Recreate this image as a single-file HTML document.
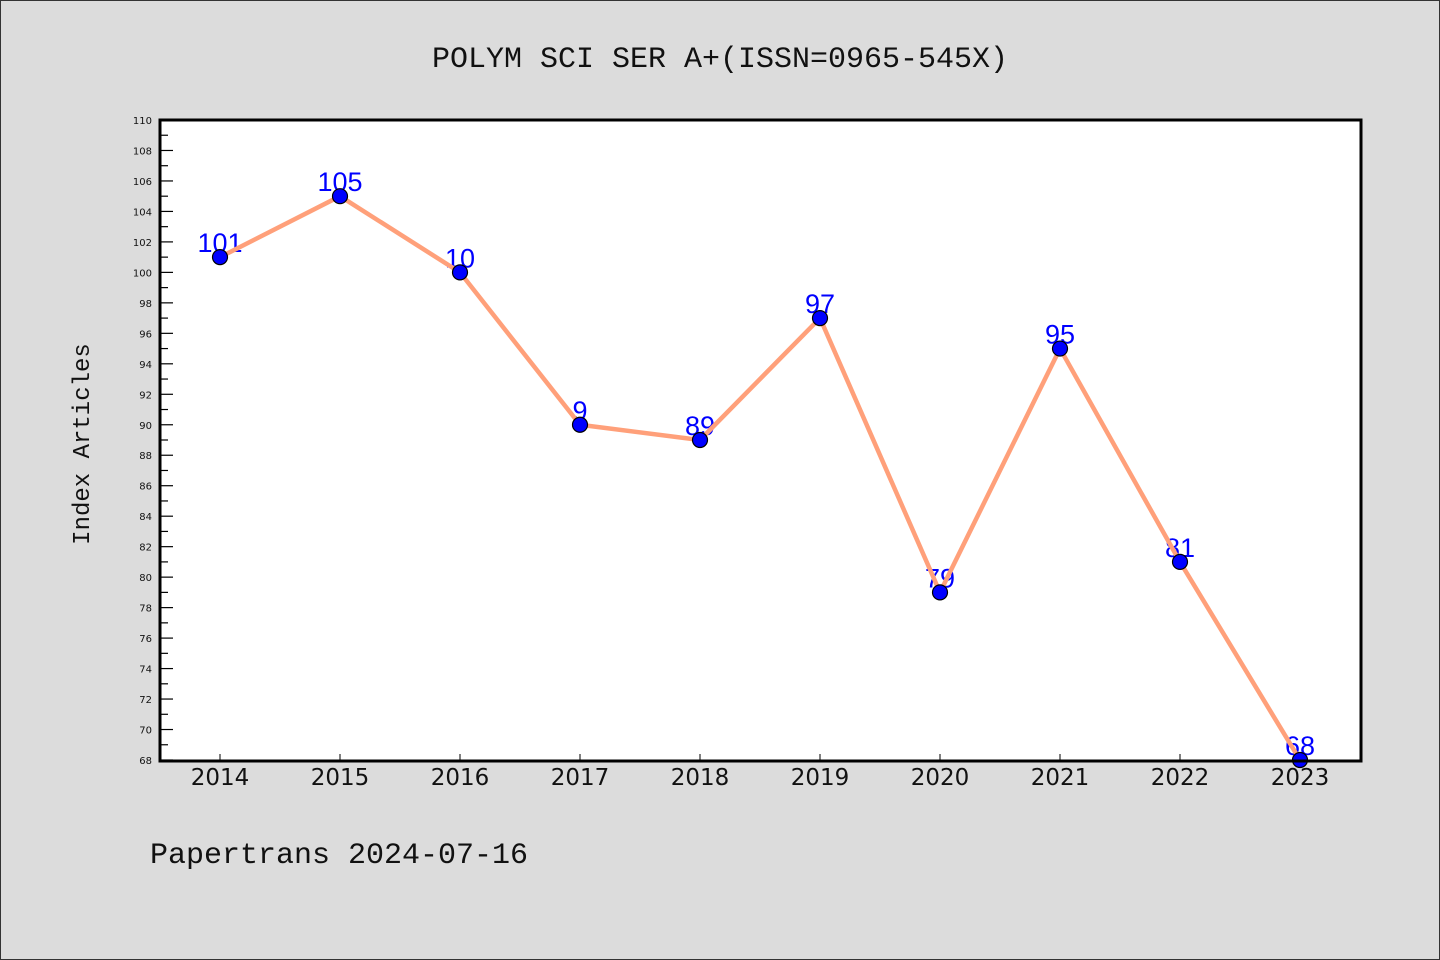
<!DOCTYPE html>
<html><head><meta charset="utf-8"><style>
html,body{margin:0;padding:0;background:#dcdcdc;}
svg{display:block;}
</style></head><body>
<svg id="chart" width="1440" height="960" xmlns="http://www.w3.org/2000/svg">
<rect x="0.5" y="0.5" width="1439" height="959" fill="#dcdcdc" stroke="#333"/>
<text x="720" y="67" text-anchor="middle" font-family="Liberation Mono, monospace" font-size="30" fill="#111">POLYM SCI SER A+(ISSN=0965-545X)</text>
<rect x="160" y="120" width="1201" height="641" fill="#fff"/>
<g id="yaxis"></g>
<g id="xaxis"></g>
<g id="labels"></g>
<g id="series"></g>
<rect x="160" y="120" width="1201" height="641" fill="none" stroke="#000" stroke-width="3"/>
<text transform="translate(89,444) rotate(-90)" text-anchor="middle" font-family="Liberation Mono, monospace" font-size="24" fill="#111">Index Articles</text>
<text x="150" y="863" font-family="Liberation Mono, monospace" font-size="30" fill="#111">Papertrans 2024-07-16</text>
</svg>
<script>
const years = ["2014","2015","2016","2017","2018","2019","2020","2021","2022","2023"];
const values = [101,105,100,90,89,97,79,95,81,68];
const printedLabels = ["101","105","10","9","89","97","79","95","81","68"];
const yMin = 68, yMax = 110;
const NS = "http://www.w3.org/2000/svg";
const y = v => 760 - (v - yMin) * (640 / (yMax - yMin));
const x = i => 220 + i * 120;
function mk(tag, attrs, parent){const e=document.createElementNS(NS,tag);for(const k in attrs)e.setAttribute(k,attrs[k]);parent.appendChild(e);return e;}
const ya=document.getElementById('yaxis');
for(let v=yMin; v<=yMax; v++){
  const major=(v%2===0);
  const t=mk('line',{x1:160,x2:major?173:168,y1:y(v),y2:y(v),stroke:'#000','stroke-width':1.2},ya);
  
  
  if(major){
    const l=mk('text',{x:152,y:y(v)+4,'text-anchor':'end','font-family':'DejaVu Sans, sans-serif','font-size':10,fill:'#111'},ya);
    l.textContent=v;
    
    
  }
}
const xa=document.getElementById('xaxis');
years.forEach((yr,i)=>{
  const t=mk('line',{x1:x(i),x2:x(i),y1:760,y2:754,stroke:'#000','stroke-width':1},xa);
  
  
  const l=mk('text',{x:x(i),y:785,'text-anchor':'middle','font-family':'DejaVu Sans, sans-serif','font-size':23,fill:'#111'},xa);
  l.textContent=yr;
  
  
});
const lg=document.getElementById('labels');
values.forEach((v,i)=>{
  const l=mk('text',{x:x(i),y:y(v)-5,'text-anchor':'middle','font-family':'Liberation Sans, sans-serif','font-size':27,fill:'#0000ff'},lg);
  l.textContent=printedLabels[i];
  
  
});
const sg=document.getElementById('series');
const pl=mk('polyline',{points:values.map((v,i)=>x(i)+','+y(v)).join(' '),fill:'none',stroke:'#ffa07a','stroke-width':4.5,'stroke-linejoin':'round'},sg);


values.forEach((v,i)=>{
  const c=mk('circle',{cx:x(i),cy:y(v),r:7.5,fill:'#0000ff',stroke:'#000','stroke-width':1.2},sg);
  
  
});
</script>
</body></html>
